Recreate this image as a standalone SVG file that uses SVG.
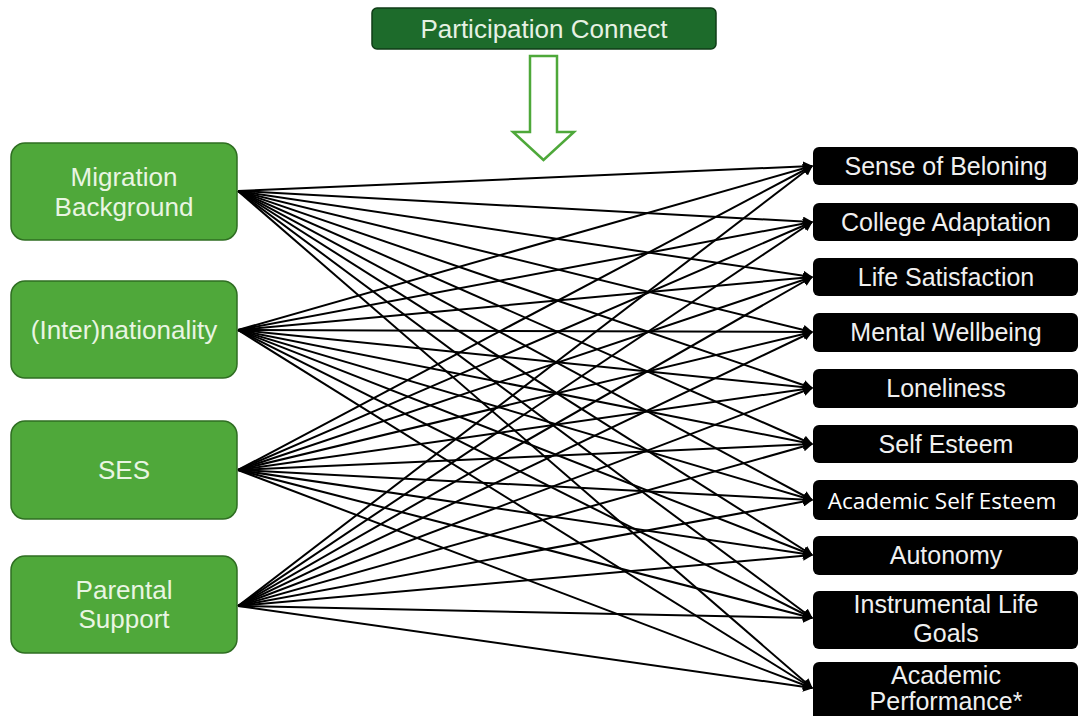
<svg xmlns="http://www.w3.org/2000/svg" width="1079" height="716" viewBox="0 0 1079 716">
<style>
.src rect{fill:#4fa83a;stroke:#2f6e22;stroke-width:1.5}
.src text{fill:#e9f5e2;font-family:"Liberation Sans",Arial,sans-serif;font-size:26px;text-anchor:middle}
.dst rect{fill:#000}
.dst text{fill:#f0f0f0;font-family:"Liberation Sans",Arial,sans-serif;font-size:25px;text-anchor:middle}
#connectors line{stroke:#000;stroke-width:2;marker-end:url(#ah)}
</style>
<defs>
<marker id="ah" viewBox="0 0 10 10" refX="9" refY="5" markerWidth="5" markerHeight="5" orient="auto" markerUnits="strokeWidth">
<path d="M0,0 L10,5 L0,10 z" fill="#000"/>
</marker>
</defs>
<rect width="1079" height="716" fill="#fff"/>
<g id="top">
<rect x="372" y="8" width="344" height="41" rx="5" fill="#1d6b2b" stroke="#0f3d17" stroke-width="1.5"/>
<text x="544" y="38" fill="#e6f1e3" font-family="'Liberation Sans',Arial,sans-serif" font-size="26" text-anchor="middle">Participation Connect</text>
</g>
<g id="bigarrow">
<path d="M530,56 L557,56 L557,132 L574,132 L543.5,160 L513,132 L530,132 Z" fill="#fff" stroke="#4ea83a" stroke-width="2.5" stroke-linejoin="miter"/>
</g>
<g id="connectors">
<line x1="238" y1="191" x2="812" y2="166"/><line x1="238" y1="191" x2="812" y2="222"/><line x1="238" y1="191" x2="812" y2="277"/><line x1="238" y1="191" x2="812" y2="332"/><line x1="238" y1="191" x2="812" y2="388"/><line x1="238" y1="191" x2="812" y2="444"/><line x1="238" y1="191" x2="812" y2="500"/><line x1="238" y1="191" x2="812" y2="555"/><line x1="238" y1="191" x2="812" y2="618"/><line x1="238" y1="191" x2="812" y2="688"/>
<line x1="238" y1="330" x2="812" y2="166"/><line x1="238" y1="330" x2="812" y2="222"/><line x1="238" y1="330" x2="812" y2="277"/><line x1="238" y1="330" x2="812" y2="332"/><line x1="238" y1="330" x2="812" y2="388"/><line x1="238" y1="330" x2="812" y2="444"/><line x1="238" y1="330" x2="812" y2="500"/><line x1="238" y1="330" x2="812" y2="555"/><line x1="238" y1="330" x2="812" y2="618"/><line x1="238" y1="330" x2="812" y2="688"/>
<line x1="238" y1="470" x2="812" y2="166"/><line x1="238" y1="470" x2="812" y2="222"/><line x1="238" y1="470" x2="812" y2="277"/><line x1="238" y1="470" x2="812" y2="332"/><line x1="238" y1="470" x2="812" y2="388"/><line x1="238" y1="470" x2="812" y2="444"/><line x1="238" y1="470" x2="812" y2="500"/><line x1="238" y1="470" x2="812" y2="555"/><line x1="238" y1="470" x2="812" y2="618"/><line x1="238" y1="470" x2="812" y2="688"/>
<line x1="238" y1="606" x2="812" y2="166"/><line x1="238" y1="606" x2="812" y2="222"/><line x1="238" y1="606" x2="812" y2="277"/><line x1="238" y1="606" x2="812" y2="332"/><line x1="238" y1="606" x2="812" y2="388"/><line x1="238" y1="606" x2="812" y2="444"/><line x1="238" y1="606" x2="812" y2="500"/><line x1="238" y1="606" x2="812" y2="555"/><line x1="238" y1="606" x2="812" y2="618"/><line x1="238" y1="606" x2="812" y2="688"/>
</g>
<g id="n-migration" class="src"><rect x="11" y="143" width="226" height="97" rx="14"/><text x="124" y="186">Migration</text><text x="124" y="216">Background</text></g>
<g id="n-inter" class="src"><rect x="11" y="281" width="226" height="97" rx="14"/><text x="124" y="339">(Inter)nationality</text></g>
<g id="n-ses" class="src"><rect x="11" y="421" width="226" height="98" rx="14"/><text x="124" y="479">SES</text></g>
<g id="n-parental" class="src"><rect x="11" y="556" width="226" height="97" rx="14"/><text x="124" y="599">Parental</text><text x="124" y="628">Support</text></g>
<g id="o-belonging" class="dst"><rect x="813" y="147" width="265" height="38" rx="6"/><text x="946" y="175">Sense of Beloning</text></g>
<g id="o-college" class="dst"><rect x="813" y="203" width="265" height="38" rx="6"/><text x="946" y="231">College Adaptation</text></g>
<g id="o-life" class="dst"><rect x="813" y="258" width="265" height="38" rx="6"/><text x="946" y="286">Life Satisfaction</text></g>
<g id="o-mental" class="dst"><rect x="813" y="313" width="265" height="39" rx="6"/><text x="946" y="341">Mental Wellbeing</text></g>
<g id="o-lonely" class="dst"><rect x="813" y="369" width="265" height="39" rx="6"/><text x="946" y="397">Loneliness</text></g>
<g id="o-self" class="dst"><rect x="813" y="425" width="265" height="38" rx="6"/><text x="946" y="453">Self Esteem</text></g>
<g id="o-acself" class="dst"><rect x="813" y="480" width="265" height="40" rx="6"/><text x="942" y="509" style="font-family:'Open Sans','Liberation Sans',sans-serif;font-size:22.5px;fill:#fff">Academic Self Esteem</text></g>
<g id="o-autonomy" class="dst"><rect x="813" y="536" width="265" height="39" rx="6"/><text x="946" y="564">Autonomy</text></g>
<g id="o-instr" class="dst"><rect x="813" y="591" width="265" height="58" rx="6"/><text x="946" y="613">Instrumental Life</text><text x="946" y="642">Goals</text></g>
<g id="o-acperf" class="dst"><rect x="813" y="662" width="265" height="60" rx="6"/><text x="946" y="684">Academic</text><text x="946" y="710">Performance*</text></g>
</svg>
